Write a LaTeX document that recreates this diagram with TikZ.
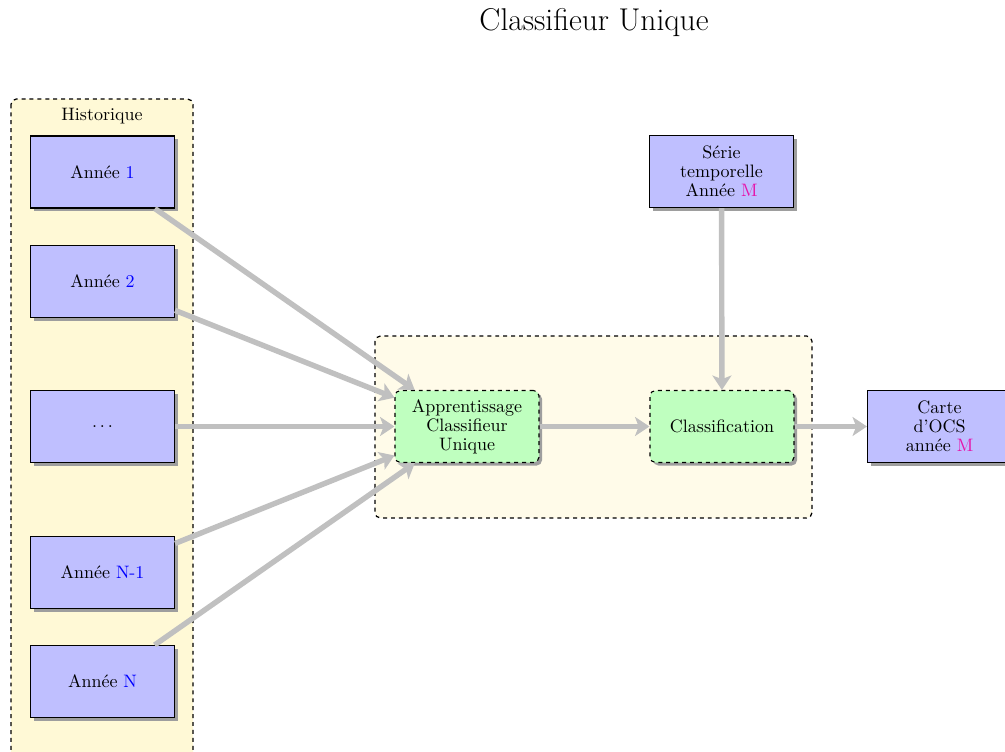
\documentclass[tikz,border=0pt]{standalone}
\usetikzlibrary{arrows.meta,shadows}
\definecolor{histfill}{RGB}{255,249,214}
\definecolor{procfill}{RGB}{255,251,233}
\definecolor{boxblue}{RGB}{191,191,255}
\definecolor{boxgreen}{RGB}{191,255,191}
\definecolor{arrgray}{RGB}{192,192,192}
\definecolor{mcol}{RGB}{230,20,170}
\tikzset{
  boxshadow/.style={drop shadow={shadow xshift=1.7pt, shadow yshift=-1.7pt, fill=black!38, opacity=1}},
  databox/.style={draw, line width=0.6pt, fill=boxblue, minimum width=80pt, minimum height=40pt, align=center,
    font=\fontsize{10}{10.5}\selectfont, boxshadow},
  procbox/.style={draw, line width=0.6pt, dash pattern=on 2.2pt off 2.2pt, rounded corners=3pt, fill=boxgreen, minimum width=80pt, minimum height=40pt,
    align=center, font=\fontsize{10}{10.5}\selectfont, boxshadow},
  groupbox/.style={draw, line width=0.7pt, dash pattern=on 2.2pt off 2.2pt, rounded corners=3pt},
  flow/.style={draw=arrgray, line width=3pt, -{Stealth[length=8pt,width=10.5pt,inset=2pt]}}
}
\begin{document}
\begin{tikzpicture}[x=0.5556pt,y=-0.5556pt]
\path[use as bounding box, clip] (0,0) rectangle (1005,751);
% title
\node[font=\fontsize{17.5}{21}\selectfont] (title) at (594,23) {Classifieur Unique};
% containers
\draw[groupbox, fill=histfill] (11,99) rectangle (193,790);
\node (histlabel) at (102,116) {Historique};
\draw[groupbox, fill=procfill] (375,336) rectangle (812,518);
% data nodes
\node[databox] (a1) at (102.5,172) {Année \textcolor{blue}{1}};
\node[databox] (a2) at (102.5,281.5) {Année \textcolor{blue}{2}};
\node[databox] (ad) at (102.5,426.5) {$\dots$};
\node[databox] (aN1) at (102.5,572.5) {Année \textcolor{blue}{N-1}};
\node[databox] (aN) at (102.5,681.5) {Année \textcolor{blue}{N}};
\node[databox] (serie) at (721.5,171.5) {Série\\temporelle\\Année \textcolor{mcol}{M}};
\node[databox] (carte) at (939.5,426.5) {Carte\\d'OCS\\année \textcolor{mcol}{M}};
% process nodes
\node[procbox] (app) at (467,426.5) {Apprentissage\\Classifieur\\Unique};
\node[procbox] (cls) at (722,426.5) {Classification};
% connectors
\draw[flow] (a1) -- (app);
\draw[flow] (a2) -- (app);
\draw[flow] (ad) -- (app);
\draw[flow] (aN1) -- (app);
\draw[flow] (aN) -- (app);
\draw[flow] (app) -- (cls);
\draw[flow] (serie) -- (cls);
\draw[flow] (cls) -- (carte);
\end{tikzpicture}
\end{document}
